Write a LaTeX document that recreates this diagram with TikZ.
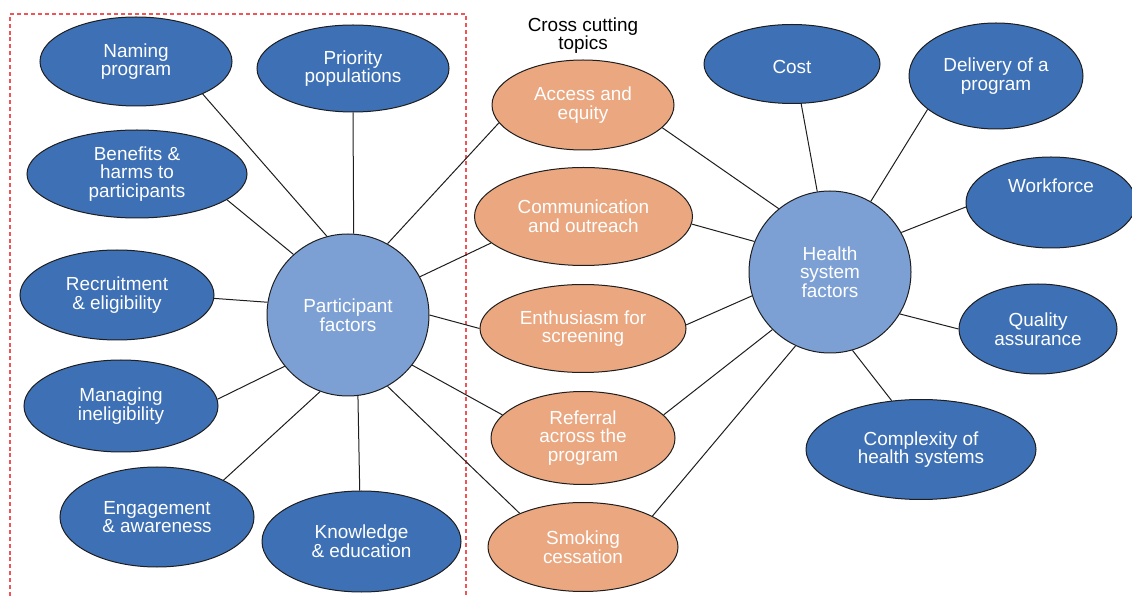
\documentclass[tikz,border=0pt]{standalone}
\usepackage{fontspec}
\setmainfont{Liberation Sans}
\usetikzlibrary{shapes.geometric}

\definecolor{darkblue}{RGB}{61,112,181}
\definecolor{lightblue}{RGB}{125,160,212}
\definecolor{peach}{RGB}{234,167,128}
\definecolor{dashred}{RGB}{238,84,88}
\definecolor{edgecol}{RGB}{30,30,30}

\tikzset{
  every node/.style={font=\fontsize{14.2}{14}\selectfont, align=center, inner sep=0pt},
  bub/.style={ellipse, draw=edgecol, line width=0.75pt, fill=#1, text=white},
  % radii given in px (1 px = 0.75pt)
  sz/.style 2 args={minimum width=#1*1.5pt, minimum height=#2*1.5pt},
  hub/.style={circle, draw=edgecol, line width=0.75pt, fill=lightblue, text=white, minimum size=162*0.75pt},
  link/.style={draw=edgecol, line width=0.75pt},
  toptext/.style={text height=10pt, text depth=25pt},
  lowtext/.style={text height=14.6pt, text depth=0pt},
  frame/.style={draw=dashred, line width=1.1pt, dash pattern=on 3pt off 2.2pt}
}

\begin{document}
\begin{tikzpicture}[x=0.75pt, y=-0.75pt]
\useasboundingbox (0,0) rectangle (1132,598);

% participant group frame (runs past the lower edge)
\draw[frame] (10,610) -- (10,14) -- (466,14) -- (466,610);

% hubs
\node[hub] (P) at (348,315) {Participant\\factors};
\node[hub] (H) at (830,272) {Health\\system\\factors};

% participant factors
\node[bub=darkblue, sz={96}{44.5}] (N) at (136,61.5) {Naming\\program};
\node[bub=darkblue, sz={96}{43.5}] (Pr) at (353,68.5) {Priority\\populations};
\node[bub=darkblue, sz={110}{44}] (B) at (137,174) {Benefits \&\\harms to\\participants};
\node[bub=darkblue, sz={97}{45}] (R) at (117,295) {Recruitment\\\& eligibility};
\node[bub=darkblue, sz={97}{46}] (M) at (121,406) {Managing\\ineligibility};
\node[bub=darkblue, sz={97}{50}] (E) at (157,517) {Engagement\\\& awareness};
\node[bub=darkblue, sz={99.5}{50.5}] (K) at (361.5,541.5) {Knowledge\\\& education};

% cross cutting topics
\node (T) at (583,35.5) {Cross cutting\\topics};
\node[bub=peach, sz={91}{45}] (A) at (583,105) {Access and\\equity};
\node[bub=peach, sz={109}{49}] (C) at (583.5,216.5) {Communication\\and outreach};
\node[bub=peach, sz={103}{44}] (En) at (583,328.5) {Enthusiasm for\\screening};
\node[bub=peach, sz={92}{46.5}] (Rf) at (583,438) {Referral\\across the\\program};
\node[bub=peach, sz={95}{44.5}] (S) at (583,547) {Smoking\\cessation};

% health system factors
\node[bub=darkblue, sz={88}{39.5}, lowtext] (Co) at (792,64) {Cost};
\node[bub=darkblue, sz={87}{53}] (D) at (996,76) {Delivery of a\\program};
\node[bub=darkblue, sz={85}{45.5}, toptext] (W) at (1051,202.5) {Workforce};
\node[bub=darkblue, sz={79}{45}] (Q) at (1038,329) {Quality\\assurance};
\node[bub=darkblue, sz={115}{50}] (X) at (921,449.5) {Complexity of\\health systems};

% participant links
\draw[link] (N.-26.6) -- (P.105.8);
\draw[link] (Pr.-90) -- (P.86.5);
\draw[link] (B.-16.7) -- (P.132.5);
\draw[link] (R.-2.4) -- (P.171.5);
\draw[link] (M.4.2) -- (P.219.1);
\draw[link] (E.29.9) -- (P.250);
\draw[link] (K.92) -- (P.-83.7);

% participant to cross cutting
\draw[link] (P.61.2) -- (A.192.1);
\draw[link] (P.28.4) -- (C.196);
\draw[link] (P.0) -- (En.180);
\draw[link] (P.-38.1) -- (Rf.164.5);
\draw[link] (P.-61.6) -- (S.152.7);

% cross cutting to health system
\draw[link] (A.-16.7) -- (H.129);
\draw[link] (C.-4.7) -- (H.158.6);
\draw[link] (En.2.8) -- (H.197.3);
\draw[link] (Rf.16.3) -- (H.225);
\draw[link] (S.24.4) -- (H.245.9);

% health system links
\draw[link] (Co.-77.8) -- (H.99.9);
\draw[link] (D.206.6) -- (H.60);
\draw[link] (W.183.4) -- (H.29);
\draw[link] (Q.180) -- (H.-31.9);
\draw[link] (X.121.5) -- (H.-74.4);
\end{tikzpicture}
\end{document}
